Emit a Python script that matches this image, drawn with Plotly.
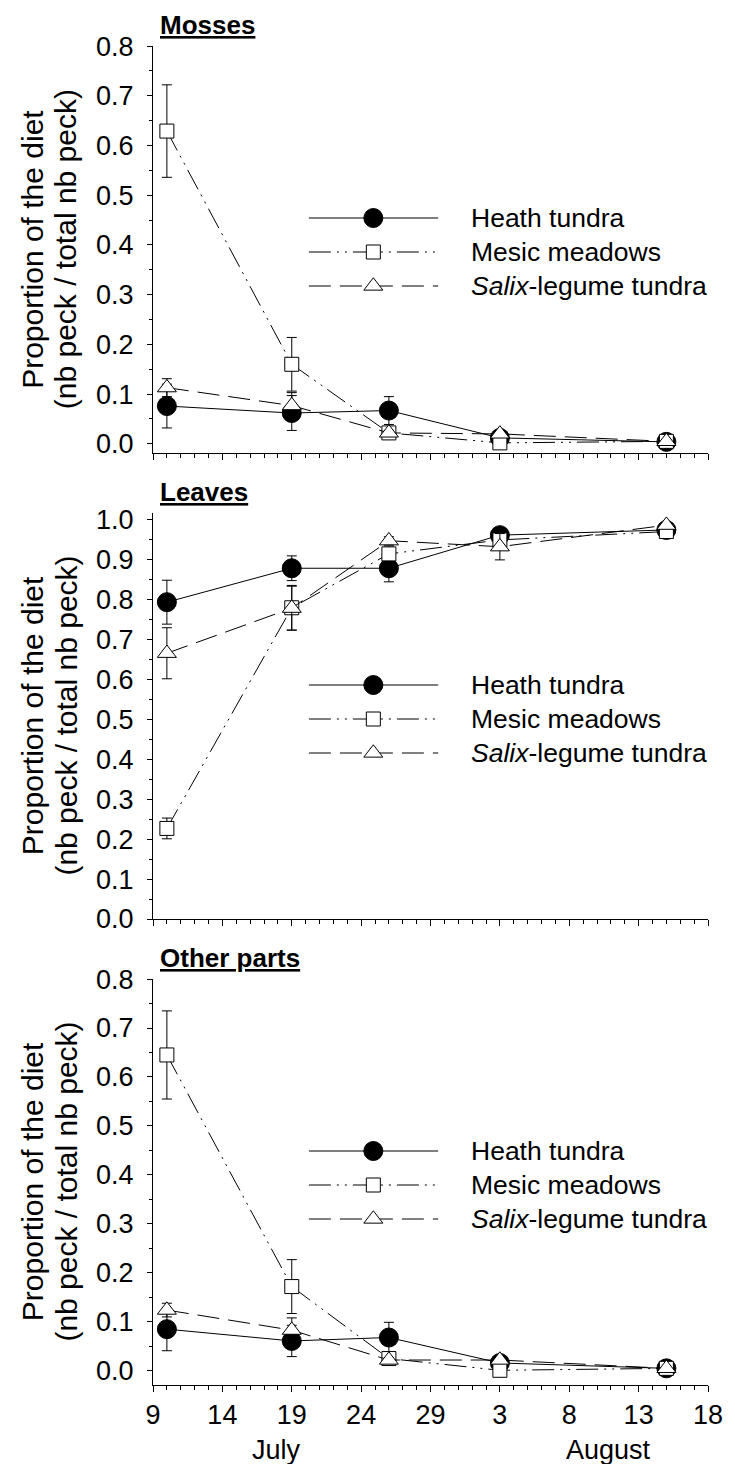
import plotly.graph_objects as go

# ---------------- data ----------------
# sampling dates expressed as day number counted from 1 July (3 Aug = 34, 15 Aug = 46)
days = [10, 19, 26, 34, 46]
tick_vals = [9, 14, 19, 24, 29, 34, 39, 44, 49]
tick_text = ["9", "14", "19", "24", "29", "3", "8", "13", "18"]

series_names = ["Heath tundra", "Mesic meadows", "<i>Salix</i>-legume tundra"]

# Mosses
mosses_heath = [0.076, 0.062, 0.067, 0.012, 0.004]
mosses_heath_err = [0.044, 0.035, 0.028, 0.005, 0.003]
mosses_mesic = [0.629, 0.160, 0.022, 0.002, 0.005]
mosses_mesic_err = [0.093, 0.054, 0.005, 0.003, 0.003]
mosses_salix = [0.113, 0.077, 0.022, 0.020, 0.005]
mosses_salix_err = [0.018, 0.026, 0.005, 0.005, 0.003]

# Leaves
leaves_heath = [0.794, 0.879, 0.879, 0.962, 0.975]
leaves_heath_err = [0.055, 0.031, 0.034, 0.010, 0.005]
leaves_mesic = [0.227, 0.780, 0.915, 0.950, 0.971]
leaves_mesic_err = [0.026, 0.056, 0.020, 0.010, 0.005]
leaves_salix = [0.666, 0.779, 0.948, 0.933, 0.987]
leaves_salix_err = [0.064, 0.055, 0.010, 0.033, 0.005]

# Other parts
other_heath = [0.085, 0.061, 0.068, 0.016, 0.005]
other_heath_err = [0.044, 0.032, 0.031, 0.005, 0.003]
other_mesic = [0.645, 0.172, 0.025, 0.001, 0.005]
other_mesic_err = [0.090, 0.055, 0.005, 0.003, 0.003]
other_salix = [0.124, 0.083, 0.022, 0.022, 0.005]
other_salix_err = [0.014, 0.025, 0.005, 0.005, 0.003]

panel_titles = ["Mosses", "Leaves", "Other parts"]
y_title_1 = "Proportion of the diet"
y_title_2 = "(nb peck / total nb peck)"
month_labels = ["July", "August"]
month_pos = [17.9, 41.8]

panels = [
    dict(title=panel_titles[0], vals=[mosses_heath, mosses_mesic, mosses_salix],
         errs=[mosses_heath_err, mosses_mesic_err, mosses_salix_err], yrange=[-0.019, 0.8001]),
    dict(title=panel_titles[1], vals=[leaves_heath, leaves_mesic, leaves_salix],
         errs=[leaves_heath_err, leaves_mesic_err, leaves_salix_err], yrange=[0.0, 1.0175]),
    dict(title=panel_titles[2], vals=[other_heath, other_mesic, other_salix],
         errs=[other_heath_err, other_mesic_err, other_salix_err], yrange=[-0.029, 0.8001]),
]

# ---------------- layout geometry (pixels) ----------------
W, H = 735, 1464
ML, MR, MT, MB = 153, 17, 46, 79
PW = W - ML - MR
PH = H - MT - MB
panel_px = [(46, 453.3), (513, 919), (979, 1385)]  # top, bottom of each plot area


def fx(X):
    return (X - ML) / PW


def fy(Y):
    return (H - MB - Y) / PH


FONT = "Liberation Sans, Arial, sans-serif"
TICK_SIZE = 27
styles = [
    dict(dash="solid", symbol="circle", size=19, fill="black"),
    dict(dash="22px,6px,2px,6px,2px,6px", symbol="square", size=14, fill="white"),
    dict(dash="22px,9px", symbol="triangle-up", size=16.5, fill="white"),
]

fig = go.Figure()
annotations = []

for i, p in enumerate(panels):
    xa = "x" if i == 0 else f"x{i+1}"
    ya = "y" if i == 0 else f"y{i+1}"
    for s in range(3):
        st = styles[s]
        fig.add_trace(go.Scatter(
            x=days, y=p["vals"][s], xaxis=xa, yaxis=ya, mode="lines+markers",
            line=dict(color="black", width=1, dash=st["dash"]),
            marker=dict(symbol=st["symbol"], size=st["size"], color=st["fill"],
                        line=dict(color="black", width=1)),
            error_y=dict(type="data", array=p["errs"][s], visible=True,
                         color="black", thickness=1, width=5),
            showlegend=False, cliponaxis=False, hoverinfo="skip"))

    top, bot = panel_px[i]
    dom = [fy(bot), fy(top)]
    xkey = "xaxis" if i == 0 else f"xaxis{i+1}"
    ykey = "yaxis" if i == 0 else f"yaxis{i+1}"
    fig.update_layout(**{
        xkey: dict(domain=[0, 1], anchor=ya, range=[9, 49], tickmode="array",
                   tickvals=tick_vals, ticktext=tick_text, showticklabels=(i == 2),
                   ticks="outside", ticklen=6, tickwidth=1, tickcolor="black",
                   minor=dict(ticks="outside", ticklen=4, dtick=1, tick0=9,
                              tickcolor="black", tickwidth=1),
                   showline=True, linecolor="black", linewidth=1, showgrid=False,
                   zeroline=False, tickfont=dict(family=FONT, size=TICK_SIZE, color="black")),
        ykey: dict(domain=dom, anchor=xa, range=p["yrange"], dtick=0.1, tick0=0,
                   tickformat=".1f", ticks="outside", ticklen=5, tickwidth=1,
                   tickcolor="black", ticklabelstandoff=8,
                   minor=dict(ticks="outside", ticklen=3, dtick=0.05, tick0=0,
                              tickcolor="black", tickwidth=1),
                   showline=True, linecolor="black", linewidth=1, showgrid=False,
                   zeroline=False, tickfont=dict(family=FONT, size=TICK_SIZE, color="black")),
    })

    # panel title
    annotations.append(dict(text=f"<b><u>{p['title']}</u></b>", xref="paper", yref="paper",
                            x=fx(158), y=fy(top - 21), xanchor="left", yanchor="middle",
                            showarrow=False, font=dict(family=FONT, size=26, color="black")))
    # y-axis title (two lines)
    cy = (top + bot) / 2
    for line_txt, cx in [(y_title_1, 30), (y_title_2, 64)]:
        annotations.append(dict(text=line_txt, xref="paper", yref="paper", x=fx(cx), y=fy(cy),
                                xanchor="center", yanchor="middle", textangle=-90,
                                showarrow=False,
                                font=dict(family=FONT, size=30, color="black")))
    # legend key (drawn on a full-figure helper axis in pixel units)
    for s in range(3):
        st = styles[s]
        ry = top + 172 + 34 * s
        fig.add_trace(go.Scatter(
            x=[311.7, 443.3], y=[ry, ry], xaxis="x4", yaxis="y4", mode="lines",
            line=dict(color="black", width=1, dash=st["dash"]),
            showlegend=False, hoverinfo="skip", cliponaxis=False))
        fig.add_trace(go.Scatter(
            x=[377.3], y=[ry], xaxis="x4", yaxis="y4", mode="markers",
            marker=dict(symbol=st["symbol"], size=st["size"], color=st["fill"],
                        line=dict(color="black", width=1)),
            showlegend=False, hoverinfo="skip", cliponaxis=False))
        annotations.append(dict(text=series_names[s], xref="paper", yref="paper",
                                x=fx(475), y=fy(ry), xanchor="left", yanchor="middle",
                                showarrow=False,
                                font=dict(family=FONT, size=26.5, color="black")))

# month labels
for lab, pos in zip(month_labels, month_pos):
    annotations.append(dict(text=lab, xref="x3", yref="paper", x=pos, y=fy(1450),
                            xanchor="center", yanchor="middle", showarrow=False,
                            font=dict(family=FONT, size=TICK_SIZE, color="black")))

fig.update_layout(
    xaxis4=dict(domain=[0, 1], range=[ML, W - MR], visible=False, anchor="y4"),
    yaxis4=dict(domain=[0, 1], range=[H - MB, MT], visible=False, anchor="x4"),
)

fig.update_layout(
    width=W, height=H, margin=dict(l=ML, r=MR, t=MT, b=MB, pad=0),
    paper_bgcolor="white", plot_bgcolor="rgba(0,0,0,0)", showlegend=False,
    annotations=annotations, font=dict(family=FONT, color="black"),
)

fig.write_html("out.html", include_plotlyjs=True, full_html=True,
               config=dict(displayModeBar=False))
